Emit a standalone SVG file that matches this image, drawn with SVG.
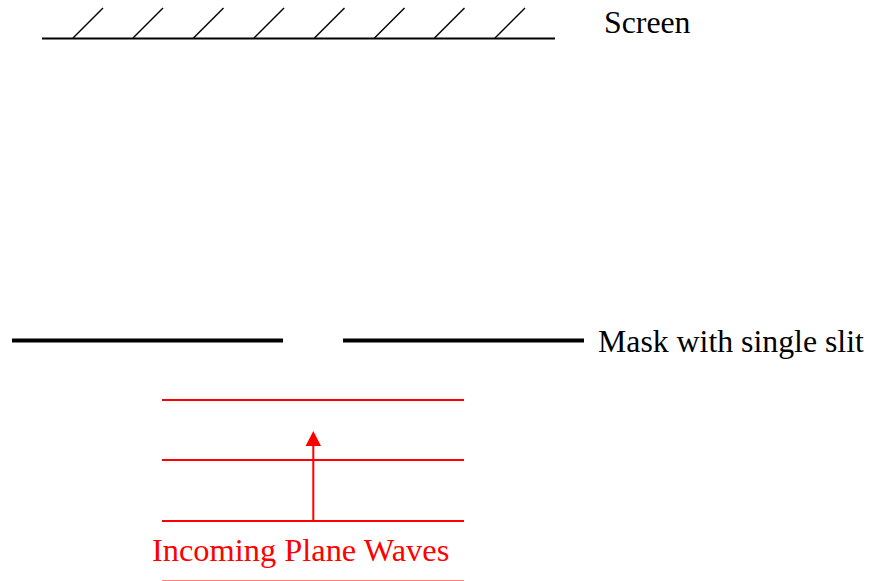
<svg xmlns="http://www.w3.org/2000/svg" width="869" height="581" viewBox="0 0 869 581">
<style>
.lbl{font-family:"Liberation Serif","Times New Roman",serif;font-size:31.8px}
.blk{stroke:#000;fill:none}
.red{stroke:#f00;fill:none;stroke-width:2}
</style>
<rect width="869" height="581" fill="#fff"/>
<g id="screen">
<line class="blk" x1="42" y1="38.5" x2="555" y2="38.5" stroke-width="2"/>
<g class="blk" stroke-width="1.5">
<line x1="73" y1="38" x2="103" y2="8"/>
<line x1="133" y1="38" x2="163" y2="8"/>
<line x1="193.5" y1="38" x2="223.5" y2="8"/>
<line x1="254" y1="38" x2="284" y2="8"/>
<line x1="314.5" y1="38" x2="344.5" y2="8"/>
<line x1="374.5" y1="38" x2="404.5" y2="8"/>
<line x1="434.5" y1="38" x2="464.5" y2="8"/>
<line x1="495" y1="38" x2="525" y2="8"/>
</g>
<text class="lbl" x="604" y="32.5">Screen</text>
</g>
<g id="mask">
<line class="blk" x1="12" y1="340.5" x2="283" y2="340.5" stroke-width="4"/>
<line class="blk" x1="343" y1="340.5" x2="584" y2="340.5" stroke-width="4"/>
<text class="lbl" x="598" y="351.5">Mask with single slit</text>
</g>
<g id="waves">
<line class="red" x1="162" y1="400" x2="464" y2="400"/>
<line class="red" x1="162" y1="460" x2="464" y2="460"/>
<line class="red" x1="162" y1="521" x2="464" y2="521"/>
<line x1="162" y1="581" x2="464" y2="581" stroke="#f00" stroke-width="2" opacity="0.5"/>
<text class="lbl" x="152" y="560.5" fill="#f00" style="font-size:32.4px">Incoming Plane Waves</text>
</g>
<g id="connectors">
<line class="red" x1="313.3" y1="521" x2="313.3" y2="445"/>
<polygon points="313.3,431 305.6,446 321,446" fill="#f00"/>
</g>
</svg>
